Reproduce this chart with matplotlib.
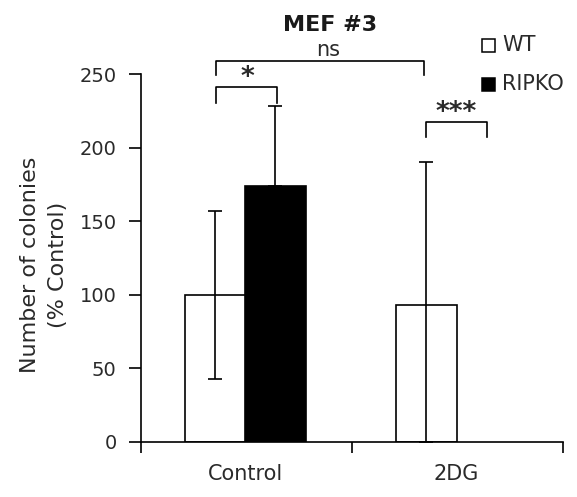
import matplotlib
matplotlib.use("Agg")
import matplotlib.pyplot as plt
import numpy as np
from matplotlib.patches import Rectangle

categories = ["Control", "2DG"]
series = ["WT", "RIPKO"]
wt_values = [100, 93]
wt_err = [57, 97]
ripko_values = [174, 0]
ripko_err = [54, 0]
yticks = [0, 50, 100, 150, 200, 250]

plt.rcParams['font.family'] = ['DejaVu Sans']
TXT = "#2a2a2a"

fig = plt.figure(figsize=(5.77, 4.97), dpi=100)
ax = fig.add_axes([0.2444, 0.1107, 0.9757 - 0.2444, 0.8511 - 0.1107])

centers = np.array([0.495, 1.495])
w = 0.287
off = 0.142
ax.bar(centers - off, wt_values, width=w, color="white", edgecolor="black", linewidth=1.2, zorder=2)
ax.bar(centers[:1] + off, ripko_values[:1], width=w, color="black", edgecolor="black", linewidth=1.2, zorder=2)

ax.errorbar(centers - off, wt_values, yerr=[np.minimum(wt_err, wt_values), wt_err], fmt="none",
            ecolor="black", elinewidth=1.2, capsize=5, capthick=1.2, zorder=3)
ax.errorbar(centers[:1] + off, ripko_values[:1], yerr=[[0], ripko_err[:1]], fmt="none",
            ecolor="black", elinewidth=1.2, capsize=5, capthick=1.2, zorder=3)

ax.set_xlim(0, 2)
ax.set_ylim(0, 250)
ax.set_yticks(yticks)
ax.tick_params(axis="y", direction="out", length=8.5, width=1.2, labelsize=14, pad=9, labelcolor=TXT)
ax.set_xticks([0, 1, 2])
ax.set_xticklabels([])
ax.tick_params(axis="x", which="major", direction="out", length=8, width=1.2)
ax.set_xticks(centers, minor=True)
ax.set_xticklabels(categories, minor=True)
ax.tick_params(axis="x", which="minor", length=0, labelsize=15, pad=16, labelcolor=TXT)
for s in ["top", "right"]:
    ax.spines[s].set_visible(False)
for s in ["left", "bottom"]:
    ax.spines[s].set_linewidth(1.2)

fig.text(44/577, 1 - 265/497, "Number of colonies\n(% Control)", rotation=90, fontsize=16,
         ha="center", va="center", color=TXT, linespacing=1.55, multialignment="center")
fig.text(330/577, 1 - 25/497, "MEF #3", fontsize=16, fontweight="bold", ha="center", va="center", color="#1a1a1a")

def bracket(x1, x2, y, y_leg):
    ax.plot([x1, x1, x2, x2], [y_leg, y, y, y_leg], color="black", lw=1.2, clip_on=False)

bracket(0.355, 0.645, 241.2, 230.3)
bracket(0.355, 1.341, 258.8, 249.3)
bracket(1.351, 1.640, 217.4, 207.0)
ax.text(0.502, 242.5, "*", ha="center", va="baseline", fontsize=19, fontweight="bold", color=TXT, clip_on=False)
ax.text(0.886, 266.0, "ns", ha="center", va="center", fontsize=15, color=TXT, clip_on=False)
ax.text(1.493, 219.0, "***", ha="center", va="baseline", fontsize=19, fontweight="bold", color=TXT, clip_on=False)

# legend
fig.patches.append(Rectangle((482/577, 1 - 52/497), 13/577, 13/497, transform=fig.transFigure,
                             facecolor="white", edgecolor="black", lw=1.1))
fig.patches.append(Rectangle((482/577, 1 - 91/497), 13/577, 13/497, transform=fig.transFigure,
                             facecolor="black", edgecolor="black", lw=1.1))
fig.text(502/577, 1 - 45/497, "WT", fontsize=15, va="center", ha="left", color=TXT)
fig.text(502/577, 1 - 84/497, "RIPKO", fontsize=15, va="center", ha="left", color=TXT)

fig.savefig("out.png", dpi=100)
